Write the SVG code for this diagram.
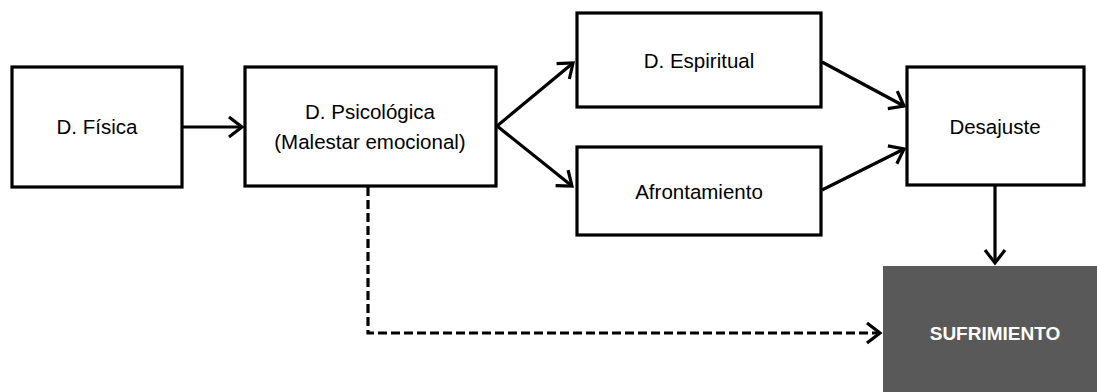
<svg xmlns="http://www.w3.org/2000/svg" width="1097" height="392" viewBox="0 0 1097 392">
  <style>
    .box { fill: #ffffff; stroke: #000000; stroke-width: 3.2; }
    .dark { fill: #595959; stroke: none; }
    .lbl { font-family: "Liberation Sans", Arial, sans-serif; font-size: 20.5px; fill: #000000; text-anchor: middle; }
    .lbl-w { font-family: "Liberation Sans", Arial, sans-serif; font-size: 19px; font-weight: bold; fill: #ffffff; text-anchor: middle; }
    .conn { fill: none; stroke: #000000; stroke-width: 3.2; marker-end: url(#chev); }
    .dash { stroke-dasharray: 9 4; }
  </style>
  <defs>
    <marker id="chev" markerUnits="userSpaceOnUse" viewBox="-16 -12 20 24" markerWidth="20" markerHeight="24" refX="0" refY="0" orient="auto">
      <path d="M -13 -10 L 0 0 L -13 10" fill="none" stroke="#000000" stroke-width="3.2" stroke-linejoin="miter"/>
    </marker>
  </defs>

  <g id="connectors">
    <line class="conn" x1="182" y1="127" x2="242" y2="127"/>
    <line class="conn" x1="497" y1="126" x2="573" y2="63"/>
    <line class="conn" x1="497" y1="126" x2="572" y2="186"/>
    <line class="conn" x1="822" y1="62" x2="904" y2="106"/>
    <line class="conn" x1="822" y1="190" x2="904" y2="149"/>
    <line class="conn" x1="995" y1="186" x2="995" y2="263"/>
    <polyline class="conn dash" points="368,187 368,333 880,333"/>
  </g>

  <g id="fisica">
    <rect class="box" x="12" y="67" width="170" height="120"/>
    <text class="lbl" x="97" y="134">D. Física</text>
  </g>

  <g id="psicologica">
    <rect class="box" x="245" y="67" width="251" height="119"/>
    <text class="lbl" x="370" y="119">D. Psicológica</text>
    <text class="lbl" x="370" y="149">(Malestar emocional)</text>
  </g>

  <g id="espiritual">
    <rect class="box" x="577" y="13" width="244" height="94"/>
    <text class="lbl" x="699" y="68">D. Espiritual</text>
  </g>

  <g id="afrontamiento">
    <rect class="box" x="577" y="147" width="244" height="88"/>
    <text class="lbl" x="699" y="199">Afrontamiento</text>
  </g>

  <g id="desajuste">
    <rect class="box" x="907" y="67" width="177" height="118"/>
    <text class="lbl" x="995" y="134">Desajuste</text>
  </g>

  <g id="sufrimiento">
    <rect class="dark" x="883" y="266" width="214" height="126"/>
    <text class="lbl-w" x="995" y="340">SUFRIMIENTO</text>
  </g>
</svg>
